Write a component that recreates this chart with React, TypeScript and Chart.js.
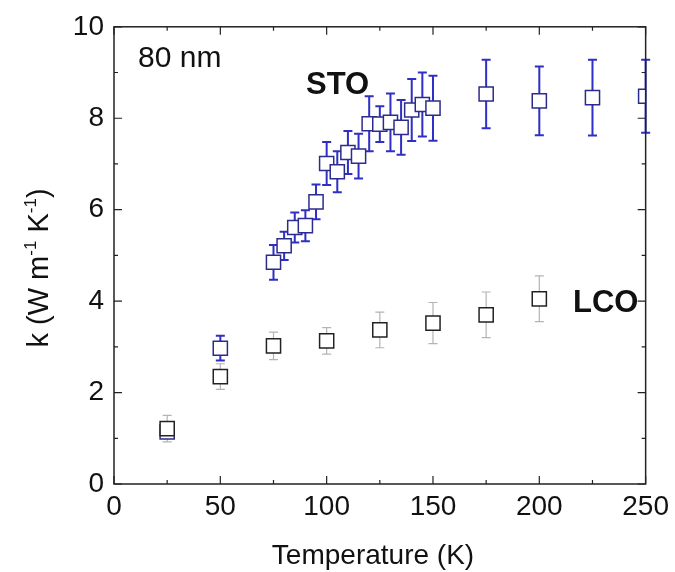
import React, { useEffect, useRef } from "react";
import { Chart, registerables } from "chart.js";

Chart.register(...registerables);

const FONT = "Arial, 'Liberation Sans', sans-serif";

// STO (blue) data: temperature (K), thermal conductivity, error
const stoTemperature = [25, 50, 75, 80, 85, 90, 95, 100, 105, 110, 115, 120, 125, 130, 135, 140, 145, 150, 175, 200, 225, 250];
const stoK = [1.14, 2.97, 4.85, 5.21, 5.61, 5.65, 6.17, 7.01, 6.83, 7.25, 7.17, 7.88, 7.87, 7.91, 7.8, 8.18, 8.3, 8.22, 8.53, 8.38, 8.45, 8.48];
const stoErr = [0.1, 0.27, 0.38, 0.31, 0.33, 0.34, 0.38, 0.47, 0.45, 0.47, 0.49, 0.6, 0.39, 0.63, 0.6, 0.68, 0.7, 0.71, 0.75, 0.75, 0.83, 0.8];

// LCO (black) data
const lcoTemperature = [25, 50, 75, 100, 125, 150, 175, 200];
const lcoK = [1.21, 2.35, 3.02, 3.13, 3.37, 3.52, 3.7, 4.05];
const lcoErr = [0.29, 0.28, 0.3, 0.29, 0.39, 0.45, 0.5, 0.5];

const xMajorTicks = [0, 50, 100, 150, 200, 250];
const xMinorTicks = [25, 75, 125, 175, 225];
const yMajorTicks = [0, 2, 4, 6, 8, 10];
const yMinorTicks = [1, 3, 5, 7, 9];

const STO_BAR = "#2f2fc4";
const STO_EDGE = "#2b2b8c";
const LCO_BAR = "#b4b4b4";
const LCO_EDGE = "#222222";

export default function App() {
  const canvasRef = useRef<HTMLCanvasElement>(null);

  useEffect(() => {
    document.body.style.margin = "0";
    const canvas = canvasRef.current;
    if (!canvas) return;

    const errorBars = {
      id: "errorBars",
      beforeDatasetsDraw(chart: any) {
        const { ctx } = chart;
        const xs = chart.scales.x;
        const ys = chart.scales.y;
        const draw = (t: number[], v: number[], e: number[], color: string, lw: number) => {
          ctx.save();
          ctx.strokeStyle = color;
          ctx.lineWidth = lw;
          for (let i = 0; i < t.length; i++) {
            const px = xs.getPixelForValue(t[i]);
            const top = ys.getPixelForValue(v[i] + e[i]);
            const bot = ys.getPixelForValue(v[i] - e[i]);
            ctx.beginPath();
            ctx.moveTo(px, top);
            ctx.lineTo(px, bot);
            ctx.moveTo(px - 4.5, top);
            ctx.lineTo(px + 4.5, top);
            ctx.moveTo(px - 4.5, bot);
            ctx.lineTo(px + 4.5, bot);
            ctx.stroke();
          }
          ctx.restore();
        };
        draw(stoTemperature, stoK, stoErr, STO_BAR, 2);
        draw(lcoTemperature, lcoK, lcoErr, LCO_BAR, 1.2);
      },
    };

    const frame = {
      id: "frame",
      afterDraw(chart: any) {
        const { ctx, chartArea: a } = chart;
        const xs = chart.scales.x;
        const ys = chart.scales.y;
        ctx.save();
        ctx.strokeStyle = "#222";
        ctx.lineWidth = 1.5;
        ctx.strokeRect(a.left, a.top, a.right - a.left, a.bottom - a.top);
        ctx.lineWidth = 1.2;
        ctx.beginPath();
        const xt = (vals: number[], len: number) => {
          vals.forEach((v) => {
            const px = xs.getPixelForValue(v);
            ctx.moveTo(px, a.bottom);
            ctx.lineTo(px, a.bottom - len);
            ctx.moveTo(px, a.top);
            ctx.lineTo(px, a.top + len);
          });
        };
        const yt = (vals: number[], len: number) => {
          vals.forEach((v) => {
            const py = ys.getPixelForValue(v);
            ctx.moveTo(a.left, py);
            ctx.lineTo(a.left + len, py);
            ctx.moveTo(a.right, py);
            ctx.lineTo(a.right - len, py);
          });
        };
        xt(xMajorTicks, 8);
        xt(xMinorTicks, 4);
        yt(yMajorTicks, 8);
        yt(yMinorTicks, 4);
        ctx.stroke();

        // axis titles
        ctx.fillStyle = "#111";
        ctx.textAlign = "center";
        ctx.textBaseline = "alphabetic";
        ctx.font = `28px ${FONT}`;
        ctx.fillText("Temperature (K)", 373, 564);

        // y title with superscripts
        ctx.save();
        ctx.translate(48, 268);
        ctx.rotate(-Math.PI / 2);
        const big = `29px ${FONT}`;
        const small = `17px ${FONT}`;
        const parts: [string, boolean][] = [
          ["k (W m", false],
          ["-1", true],
          [" K", false],
          ["-1", true],
          [")", false],
        ];
        let total = 0;
        parts.forEach(([s, sup]) => {
          ctx.font = sup ? small : big;
          total += ctx.measureText(s).width;
        });
        let cx = -total / 2;
        ctx.textAlign = "left";
        parts.forEach(([s, sup]) => {
          ctx.font = sup ? small : big;
          ctx.fillText(s, cx, sup ? -12 : 0);
          cx += ctx.measureText(s).width;
        });
        ctx.restore();

        // annotations
        ctx.textAlign = "left";
        ctx.font = `30px ${FONT}`;
        ctx.fillStyle = "#111";
        ctx.fillText("80 nm", 138, 67);
        ctx.font = `bold 31px ${FONT}`;
        ctx.fillText("STO", 306, 94);
        ctx.fillText("LCO", 573, 312);
        ctx.restore();
      },
    };

    const chart = new Chart(canvas, {
      type: "scatter",
      data: {
        datasets: [
          {
            label: "LCO",
            data: lcoTemperature.map((t, i) => ({ x: t, y: lcoK[i] })),
            pointStyle: "rect",
            pointRadius: 10,
            borderWidth: 1.5,
            borderColor: LCO_EDGE,
            backgroundColor: "#ffffff",
          },
          {
            label: "STO",
            data: stoTemperature.map((t, i) => ({ x: t, y: stoK[i] })),
            pointStyle: "rect",
            pointRadius: 10,
            borderWidth: 1.5,
            borderColor: STO_EDGE,
            backgroundColor: "#ffffff",
          },
        ],
      },
      options: {
        animation: false,
        responsive: false,
        events: [],
        layout: { padding: { top: 24, right: 27, left: 0, bottom: 0 } },
        plugins: { legend: { display: false }, tooltip: { enabled: false } },
        scales: {
          x: {
            type: "linear",
            min: 0,
            max: 250,
            afterFit: (s: any) => {
              s.height = 88;
            },
            grid: { display: false, drawTicks: false },
            border: { display: false },
            ticks: {
              stepSize: 50,
              padding: 6,
              color: "#111",
              font: { family: FONT, size: 28 },
              maxRotation: 0,
            },
          },
          y: {
            type: "linear",
            min: 0,
            max: 10,
            afterFit: (s: any) => {
              s.width = 114;
            },
            grid: { display: false, drawTicks: false },
            border: { display: false },
            ticks: {
              stepSize: 2,
              padding: 10,
              color: "#111",
              font: { family: FONT, size: 28 },
            },
          },
        },
      },
      plugins: [errorBars, frame],
    });

    return () => chart.destroy();
  }, []);

  return (
    <div style={{ width: 675, height: 572 }}>
      <canvas ref={canvasRef} width={675} height={572} style={{ display: "block" }} />
    </div>
  );
}
